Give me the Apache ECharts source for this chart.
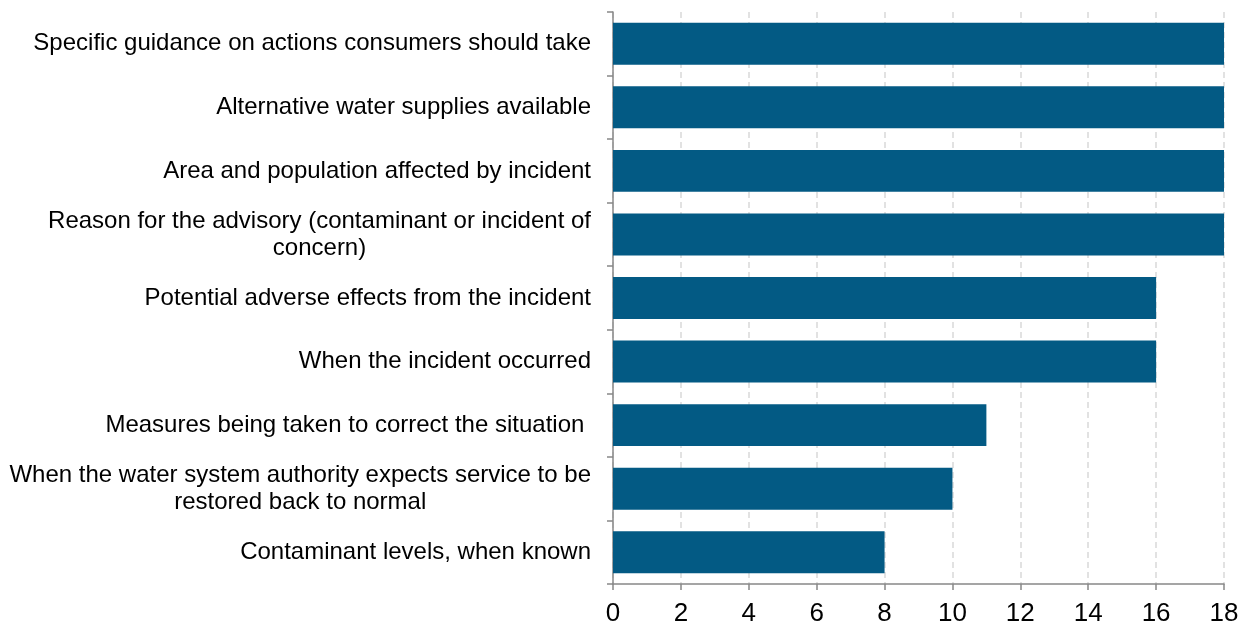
<!DOCTYPE html>
<html>
<head>
<meta charset="utf-8">
<script src="https://cdn.jsdelivr.net/npm/echarts@6/dist/echarts.min.js"></script>
<style>html,body{margin:0;padding:0;background:#fff;}#c{width:1251px;height:628px;}</style>
</head>
<body>
<div id="c"></div>
<script>
const categories = [
  "Specific guidance on actions consumers should take",
  "Alternative water supplies available",
  "Area and population affected by incident",
  "Reason for the advisory (contaminant or incident of\nconcern)",
  "Potential adverse effects from the incident",
  "When the incident occurred",
  "Measures being taken to correct the situation ",
  "When the water system authority expects service to be\nrestored back to normal",
  "Contaminant levels, when known"
];
const values = [18, 18, 18, 18, 16, 16, 11, 10, 8];
const xTicks = [0, 2, 4, 6, 8, 10, 12, 14, 16, 18];

const chart = echarts.init(document.getElementById('c'), null, {renderer: 'canvas'});
chart.setOption({
  animation: false,
  grid: {left: 613, right: 27, top: 12, bottom: 44, containLabel: false},
  xAxis: {
    type: 'value', min: xTicks[0], max: xTicks[xTicks.length - 1], interval: 2,
    axisLine: {show: true, lineStyle: {color: '#888', width: 1.5}},
    axisTick: {show: true, length: 6, lineStyle: {color: '#888', width: 1.5}},
    axisLabel: {color: '#000', fontSize: 26, fontFamily: 'Liberation Sans, Arial, sans-serif', margin: 17},
    splitLine: {show: true, lineStyle: {color: '#d9d9d9', type: [6, 4], width: 1.5}}
  },
  yAxis: {
    type: 'category', data: categories, inverse: true,
    axisLine: {show: true, lineStyle: {color: '#888', width: 1.5}},
    axisTick: {show: true, length: 6, lineStyle: {color: '#888', width: 1.5}},
    axisLabel: {
      color: '#000', fontSize: 24, fontFamily: 'Liberation Sans, Arial, sans-serif',
      margin: 22, align: 'right', lineHeight: 27,
      formatter: function (v) {
        return v.split('\n').map(function (s) { return '{c|' + s + '}'; }).join('\n');
      },
      rich: {
        c: {align: 'center', color: '#000', fontSize: 24, fontFamily: 'Liberation Sans, Arial, sans-serif', lineHeight: 27}
      }
    },
    splitLine: {show: false}
  },
  series: [{
    type: 'bar', data: values, barCategoryGap: '34%',
    itemStyle: {color: '#035A84'}
  }]
});
</script>
</body>
</html>
